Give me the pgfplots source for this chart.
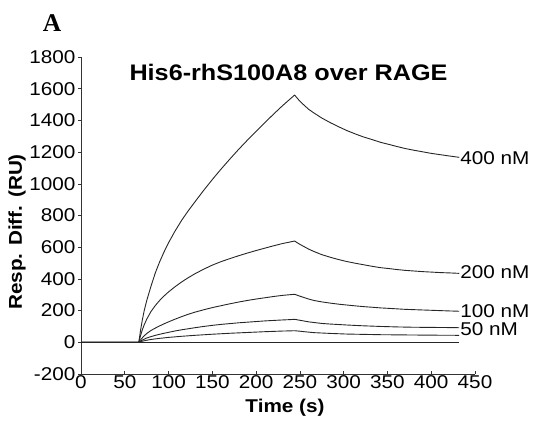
\documentclass[border=0pt]{standalone}
\usepackage{fontspec}
\setmainfont{Liberation Sans}[FakeStretch=1.12]
\newfontfamily\serifA{Liberation Serif}
\usepackage{pgfplots}
\pgfplotsset{compat=1.18}
\newcommand{\tickfont}{\fontsize{18.5}{22}\selectfont}
\begin{document}
\begin{tikzpicture}
\path[use as bounding box] (-81pt,-52pt) rectangle (453pt,374pt);
\begin{axis}[
  at={(0,0)}, anchor=south west,
  scale only axis, width=394pt, height=317pt,
  xmin=0, xmax=450, ymin=-200, ymax=1800,
  axis x line*=bottom, axis y line*=left,
  x axis line style={-}, y axis line style={-},
  axis line style={black!80, line width=0.8pt},
  xtick={0,50,...,450}, ytick={-200,0,...,1800},
  tick style={black!80, line width=0.6pt},
  major tick length=3pt,
  xtick align=inside, ytick align=outside,
  tick label style={font=\tickfont},
  /pgf/number format/assume math mode=true,
  /pgf/number format/1000 sep={},
  yticklabel style={xshift=1pt},
  xticklabel style={yshift=2pt},
  clip=false,
  curve/.style={black!85, line width=0.9pt, line join=round, no markers, solid},
]
% 400 nM
\addplot[curve] coordinates {(0,0)(66,0)(68,75)(70,140)(72,195)(75,262)(80,355)(85,440)(90,510)(95,572)(100,628)(107,698)(115,770)(122,826)(130,885)(140,958)(150,1027)(160,1093)(170,1156)(180,1217)(190,1275)(200,1331)(210,1386)(220,1440)(230,1492)(238,1531)(244,1560)
(247,1540)(250,1521)(255,1495)(260,1470)(266,1447)(275,1415)(285,1385)(295,1358)(304,1335)(315,1311)(323,1295)(333,1278)(342,1262)(352,1248)(361,1235)(370,1223)(380,1212)(390,1202)(400,1192)(410,1184)(420,1176)(432,1167)};
% 200 nM
\addplot[curve] coordinates {(0,0)(66,0)(68,42)(70,78)(72,108)(75,145)(80,195)(85,233)(90,265)(95,293)(100,318)(107,349)(115,381)(122,406)(130,432)(140,461)(150,487)(160,509)(170,528)(180,546)(190,563)(200,579)(210,594)(220,609)(230,623)(238,632)(244,639)
(247,628)(250,618)(255,603)(260,588)(266,573)(275,553)(285,536)(295,521)(304,509)(315,497)(323,489)(333,479)(342,471)(352,465)(361,459)(370,454)(380,450)(390,446)(400,443)(410,440)(420,438)(432,435)};
% 100 nM
\addplot[curve] coordinates {(0,0)(66,0)(68,15)(70,28)(72,40)(75,55)(80,75)(85,90)(90,104)(95,117)(100,129)(107,145)(115,162)(122,176)(130,190)(140,205)(150,219)(160,231)(170,243)(180,254)(190,264)(200,273)(210,281)(220,289)(230,296)(238,300)(244,303)
(247,297)(250,291)(255,282)(260,273)(266,264)(275,255)(285,247)(295,240)(304,235)(315,229)(323,225)(333,221)(342,217)(352,214)(361,211)(370,208)(380,206)(390,204)(400,202)(410,200)(420,198)(432,196)};
% 50 nM
\addplot[curve] coordinates {(0,0)(66,0)(68,7)(70,14)(72,19)(75,27)(80,36)(85,44)(90,51)(95,57)(100,63)(107,71)(115,79)(122,85)(130,92)(140,100)(150,107)(160,113)(170,118)(180,123)(190,127)(200,131)(210,135)(220,138)(230,141)(238,143)(244,145)
(247,142)(250,139)(255,134)(260,129)(266,125)(275,119)(285,115)(295,112)(304,109)(315,106)(323,104)(333,102)(342,100)(352,98.5)(361,97)(370,96)(380,95)(390,94.5)(400,94)(410,93.5)(420,93)(432,92)};
% lowest
\addplot[curve] coordinates {(0,0)(66,0)(70,7)(75,13)(80,18)(90,25)(100,31)(115,38)(130,44)(150,51)(170,57)(190,62)(210,67)(230,71)(244,73)
(250,70)(255,67)(266,61)(285,56)(304,52)(323,50)(342,48)(361,47)(380,46)(400,45)(420,44.5)(432,44)};
% blank
\addplot[curve] coordinates {(0,0)(432,0)};
\node[anchor=west, inner sep=0pt, font=\tickfont] at (axis cs:433,1165) {400 nM};
\node[anchor=west, inner sep=0pt, font=\tickfont] at (axis cs:433,440) {200 nM};
\node[anchor=west, inner sep=0pt, font=\tickfont] at (axis cs:433,197) {100 nM};
\node[anchor=west, inner sep=0pt, font=\tickfont] at (axis cs:433,80) {50 nM};
\node[font=\fontsize{22.5}{26}\selectfont\bfseries] at (axis cs:237,1705) {His6-rhS100A8 over RAGE};
\end{axis}
\node[rotate=90, font=\fontsize{18.5}{22}\selectfont\bfseries] at (-64pt,142pt) {Resp. Diff. (RU)};
\node[font=\fontsize{18.5}{22}\selectfont\bfseries] at (204pt,-34pt) {Time (s)};
\node[font=\fontsize{25.5}{28}\selectfont\serifA\bfseries] at (-29pt,351pt) {A};
\end{tikzpicture}
\end{document}
